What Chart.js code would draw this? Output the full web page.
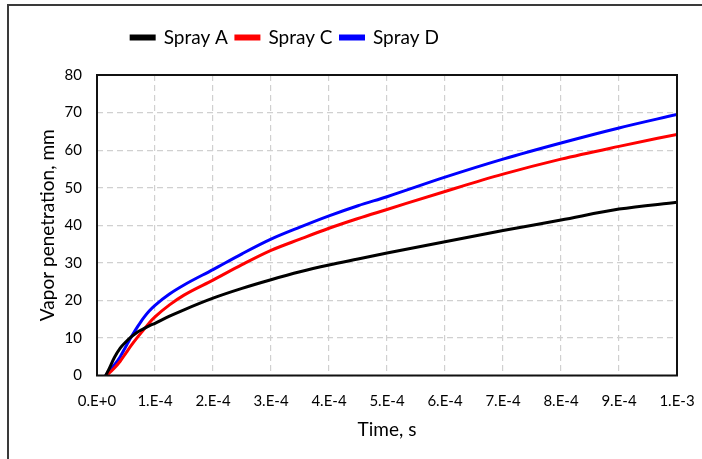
<!DOCTYPE html>
<html>
<head>
<meta charset="utf-8">
<script src="https://cdn.jsdelivr.net/npm/chart.js@4"></script>
<style>
  html, body { margin: 0; padding: 0; background: #fff; }
  #wrap { width: 702px; height: 459px; }
</style>
</head>
<body>
<div id="wrap"><canvas id="chart" width="702" height="459"></canvas></div>
<script>
// time in seconds
const times = [1.5e-5, 2e-5, 3e-5, 4e-5, 5e-5, 6e-5, 7e-5, 8e-5, 9e-5, 1e-4, 1.25e-4, 1.5e-4, 2e-4, 2.5e-4,
  3e-4, 3.5e-4, 4e-4, 4.5e-4, 5e-4, 6e-4, 7e-4, 8e-4, 9e-4, 1e-3];

// vapor penetration, mm
const sprayA = [0, 1.5, 4.8, 7.3, 9.0, 10.4, 11.6, 12.4, 13.2, 13.9, 15.8, 17.5, 20.6, 23.2,
  25.5, 27.6, 29.4, 31.0, 32.6, 35.6, 38.6, 41.4, 44.3, 46.1];
const sprayC = [0, 0.5, 2.0, 3.8, 6.0, 8.2, 10.2, 12.1, 14.0, 15.6, 18.8, 21.4, 25.4, 29.5,
  33.3, 36.3, 39.2, 41.8, 44.2, 49.0, 53.6, 57.6, 61.0, 64.2];
const sprayD = [0, 1.0, 2.8, 5.0, 7.8, 10.5, 13.0, 15.3, 17.2, 18.7, 21.7, 24.1, 28.2, 32.4,
  36.3, 39.5, 42.5, 45.2, 47.6, 52.8, 57.6, 61.9, 65.9, 69.5];

const xTickValues = [0, 1e-4, 2e-4, 3e-4, 4e-4, 5e-4, 6e-4, 7e-4, 8e-4, 9e-4, 1e-3];
const xTickLabels = ['0.E+0', '1.E-4', '2.E-4', '3.E-4', '4.E-4', '5.E-4', '6.E-4', '7.E-4', '8.E-4', '9.E-4', '1.E-3'];

const FONT = 'Lato, "Open Sans", sans-serif';

const toPoints = (ys) => times.map((t, i) => ({ x: t, y: ys[i] }));

const makeSet = (label, ys, color) => ({
  label: label,
  data: toPoints(ys),
  borderColor: color,
  backgroundColor: color,
  borderWidth: 3,
  pointRadius: 0,
  cubicInterpolationMode: 'monotone'
});

// outer figure frame, plot box, legend spacing
const framePlugin = {
  id: 'frame',
  beforeInit: (chart) => {
    const fit = chart.legend.fit;
    chart.legend.fit = function () {
      fit.bind(chart.legend)();
      this.height += 18;
    };
  },
  afterLayout: (chart) => {
    // legend sits left of centre in the original figure
    chart.legend.left = 0;
    chart.legend.right = 570;
  },
  beforeDraw: (chart) => {
    const ctx = chart.ctx;
    ctx.save();
    ctx.fillStyle = '#fff';
    ctx.fillRect(0, 0, chart.width, chart.height);
    ctx.strokeStyle = '#3a3a3a';
    ctx.lineWidth = 2;
    ctx.strokeRect(8, 5, 800, 600);
    ctx.restore();
  },
  afterDatasetsDraw: (chart) => {
    const a = chart.chartArea;
    const ctx = chart.ctx;
    ctx.save();
    ctx.strokeStyle = '#111';
    ctx.lineWidth = 2;
    ctx.strokeRect(a.left, a.top, a.right - a.left, a.bottom - a.top);
    ctx.restore();
  }
};

new Chart(document.getElementById('chart'), {
  type: 'line',
  data: {
    datasets: [
      makeSet('Spray A', sprayA, '#000000'),
      makeSet('Spray C', sprayC, '#ff0000'),
      makeSet('Spray D', sprayD, '#0000ff')
    ]
  },
  options: {
    responsive: false,
    animation: false,
    layout: { padding: { left: 20, right: 25, top: 20, bottom: 10 } },
    plugins: {
      legend: {
        display: true,
        position: 'top',
        labels: {
          boxWidth: 23,
          boxHeight: 3,
          padding: 8,
          color: '#000',
          font: { family: FONT, size: 19 }
        }
      },
      tooltip: { enabled: false }
    },
    scales: {
      x: {
        type: 'linear',
        min: 0,
        max: 1e-3,
        afterBuildTicks: (scale) => {
          scale.ticks = xTickValues.map(v => ({ value: v }));
        },
        afterFit: (scale) => {
          scale.height = 73.5;
          scale.paddingLeft = 0;
          scale.paddingRight = 0;
        },
        ticks: {
          autoSkip: false,
          maxRotation: 0,
          padding: 17,
          color: '#000',
          font: { family: FONT, size: 15 },
          callback: (v, i) => xTickLabels[i]
        },
        grid: {
          color: '#d0d0d0',
          lineWidth: 1.2,
          drawTicks: false
        },
        border: { display: false, dash: [6, 4] },
        title: {
          display: true,
          text: 'Time, s',
          color: '#000',
          font: { family: FONT, size: 19 },
          padding: { top: 0, bottom: 8 }
        }
      },
      y: {
        min: 0,
        max: 80,
        afterFit: (scale) => { scale.width = 77; },
        ticks: {
          stepSize: 10,
          padding: 15,
          color: '#000',
          font: { family: FONT, size: 15 }
        },
        grid: {
          color: '#d0d0d0',
          lineWidth: 1.2,
          drawTicks: false
        },
        border: { display: false, dash: [6, 4] },
        title: {
          display: true,
          text: 'Vapor penetration, mm',
          color: '#000',
          font: { family: FONT, size: 19 },
          padding: { top: 16, bottom: 0 }
        }
      }
    }
  },
  plugins: [framePlugin]
});
</script>
</body>
</html>
